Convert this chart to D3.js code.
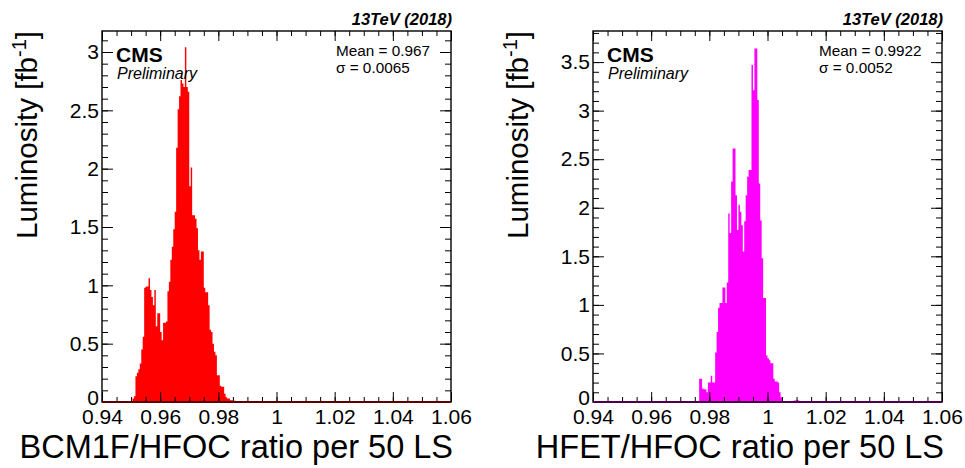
<!DOCTYPE html>
<html>
<head>
<meta charset="utf-8">
<script src="https://cdn.jsdelivr.net/npm/d3@7/dist/d3.min.js"></script>
<style>
  body { margin: 0; background: #fff; }
  svg { font-family: "Liberation Sans", Arial, Helvetica, sans-serif; }
</style>
</head>
<body>
<div id="chart"></div>
<script>
// histogram bins: width and lower edge of first filled bin
const binWidth = 0.0005;
const bcmStart = 0.9505;
const bcmLumi = [
  0.03, 0.05, 0.22, 0.25, 0.28, 0.33, 0.45, 0.56, 0.98, 0.99,
  0.99, 1.06, 0.96, 0.90, 0.83, 0.96, 0.65, 0.76, 0.76, 0.60,
  0.53, 0.68, 0.68, 0.69, 0.95, 1.03, 1.22, 1.33, 1.48, 1.63,
  2.18, 2.51, 2.62, 2.76, 2.73, 2.70, 3.04, 2.70, 2.66, 1.85,
  2.01, 1.60, 1.60, 1.57, 1.49, 1.30, 1.22, 1.29, 1.29, 0.98,
  0.94, 0.94, 0.83, 0.62, 0.60, 0.50, 0.43, 0.40, 0.23, 0.23,
  0.14, 0.13, 0.13, 0.07, 0.04, 0.03, 0.03, 0.015, 0.015, 0.01,
  0.01, 0.005, 0.005, 0.003
];
const hfetStart = 0.9765;
const hfetLumi = [
  0.24, 0.24, 0.14, 0.13, 0.13, 0.10, 0.20, 0.20, 0.27, 0.20,
  0.20, 0.51, 0.72, 0.97, 1.02, 1.02, 1.18, 1.18, 1.02, 1.23,
  1.94, 1.74, 2.27, 2.61, 2.61, 2.13, 1.77, 2.03, 1.96, 1.82,
  1.55, 1.86, 2.13, 2.32, 2.39, 2.39, 3.47, 3.21, 3.64, 3.64,
  3.11, 2.25, 1.87, 1.48, 1.07, 1.07, 0.48, 0.45, 0.43, 0.40,
  0.40, 0.24, 0.21, 0.21, 0.20, 0.10, 0.05, 0.005, 0.005, 0,
  0, 0, 0.005, 0.005, 0.01, 0.015, 0.015, 0.02, 0.015, 0.01
];

const xTicks = [0.94, 0.96, 0.98, 1, 1.02, 1.04, 1.06];
const bcmYTicks = [0, 0.5, 1, 1.5, 2, 2.5, 3];
const hfetYTicks = [0, 0.5, 1, 1.5, 2, 2.5, 3, 3.5];

const panels = [
  { left: 102, start: bcmStart, values: bcmLumi, yMax: 3.18, yTicks: bcmYTicks,
    fill: "#ff0000", base: "#5c0000", title: "BCM1F/HFOC ratio per 50 LS",
    mean: "Mean = 0.967", sigma: "σ = 0.0065", statsX: 234 },
  { left: 593, start: hfetStart, values: hfetLumi, yMax: 3.82, yTicks: hfetYTicks,
    fill: "#ff00ff", base: "#4c004c", title: "HFET/HFOC ratio per 50 LS",
    mean: "Mean = 0.9922", sigma: "σ = 0.0052", statsX: 226 }
];

const W = 965, H = 468;
const frameTop = 31, fw = 349, fh = 371;

const svg = d3.select("#chart").append("svg")
  .attr("width", W)
  .attr("height", H);

panels.forEach((p, k) => {
  const x = d3.scaleLinear().domain([0.94, 1.06]).range([0, fw]);
  const y = d3.scaleLinear().domain([0, p.yMax]).range([fh, 0]);

  const g = svg.append("g").attr("transform", `translate(${p.left},${frameTop})`);

  g.append("defs").append("clipPath").attr("id", "clip" + k)
    .append("rect").attr("width", fw).attr("height", fh);

  // bins -> step area
  const bins = p.values.map((v, i) => ({ lo: p.start + i * binWidth, v: v }));
  bins.push({ lo: p.start + p.values.length * binWidth, v: p.values[p.values.length - 1] });

  const area = d3.area()
    .x(d => x(d.lo))
    .y0(y(0))
    .y1(d => y(d.v))
    .curve(d3.curveStepAfter);

  g.append("path")
    .datum(bins)
    .attr("clip-path", `url(#clip${k})`)
    .attr("fill", p.fill)
    .attr("d", area);

  // minor ticks
  const xMinor = d3.range(0.94, 1.0601, 0.005).map(d => +d.toFixed(3));
  const yMinor = d3.range(0, p.yMax, 0.1).map(d => +d.toFixed(2));

  const tickAxis = (axis, tr, size, vals) => {
    const a = g.append("g").attr("transform", tr)
      .call(axis.tickValues(vals).tickSize(size).tickSizeOuter(0).tickFormat(""));
    a.select(".domain").remove();
    a.selectAll("line").attr("stroke", "#000");
  };
  tickAxis(d3.axisBottom(x), `translate(0,${fh})`, -5, xMinor);
  tickAxis(d3.axisTop(x), "translate(0,0)", -5, xMinor);
  tickAxis(d3.axisTop(x), "translate(0,0)", -10, xTicks);
  tickAxis(d3.axisLeft(y), "translate(0,0)", -6, yMinor);
  tickAxis(d3.axisRight(y), `translate(${fw},0)`, -6, yMinor);
  tickAxis(d3.axisRight(y), `translate(${fw},0)`, -11, p.yTicks);

  // labelled axes
  const xAxis = g.append("g").attr("transform", `translate(0,${fh})`)
    .call(d3.axisBottom(x).tickValues(xTicks).tickSize(-10).tickSizeOuter(0)
      .tickPadding(7).tickFormat(d => String(+d.toFixed(2))));
  const yAxis = g.append("g")
    .call(d3.axisLeft(y).tickValues(p.yTicks).tickSize(-11).tickSizeOuter(0)
      .tickPadding(3).tickFormat(d => String(d)));
  [xAxis, yAxis].forEach(a => {
    a.select(".domain").remove();
    a.selectAll("line").attr("stroke", "#000");
    a.selectAll("text").attr("font-size", 21).attr("fill", "#000")
      .attr("font-family", "'Liberation Sans', Arial, sans-serif");
  });
  // the "0" sits a little high, as in ROOT output
  yAxis.selectAll(".tick text").filter(d => d === 0).attr("y", -4);

  // frame
  g.append("rect")
    .attr("width", fw).attr("height", fh)
    .attr("fill", "none").attr("stroke", "#000").attr("stroke-width", 1.4);
  g.append("line")
    .attr("x1", 0).attr("x2", fw).attr("y1", y(0)).attr("y2", y(0))
    .attr("stroke", p.base).attr("stroke-width", 2);

  // titles
  g.append("text")
    .attr("x", fw + 2).attr("y", 458 - frameTop)
    .attr("text-anchor", "end").attr("font-size", 32.5)
    .text(p.title);

  const yt = svg.append("text")
    .attr("transform", `translate(${p.left - 65},${frameTop}) rotate(-90)`)
    .attr("text-anchor", "end").attr("font-size", 29.5);
  yt.append("tspan").text("Luminosity [fb");
  yt.append("tspan").attr("font-size", 20).attr("dy", -11).text("-1");
  yt.append("tspan").attr("dy", 11).text("]");

  g.append("text")
    .attr("x", fw + 1).attr("y", 25 - frameTop)
    .attr("text-anchor", "end").attr("font-size", 16.5)
    .attr("font-weight", "bold").attr("font-style", "italic")
    .text("13TeV (2018)");

  g.append("text")
    .attr("x", 14).attr("y", 62 - frameTop)
    .attr("font-size", 21).attr("font-weight", "bold")
    .text("CMS");
  g.append("text")
    .attr("x", 15).attr("y", 79 - frameTop)
    .attr("font-size", 16).attr("font-style", "italic")
    .text("Preliminary");

  g.append("text")
    .attr("x", p.statsX).attr("y", 56 - frameTop)
    .attr("font-size", 15.3)
    .text(p.mean);
  g.append("text")
    .attr("x", p.statsX).attr("y", 73 - frameTop)
    .attr("font-size", 15.3)
    .text(p.sigma);
});
</script>
</body>
</html>
